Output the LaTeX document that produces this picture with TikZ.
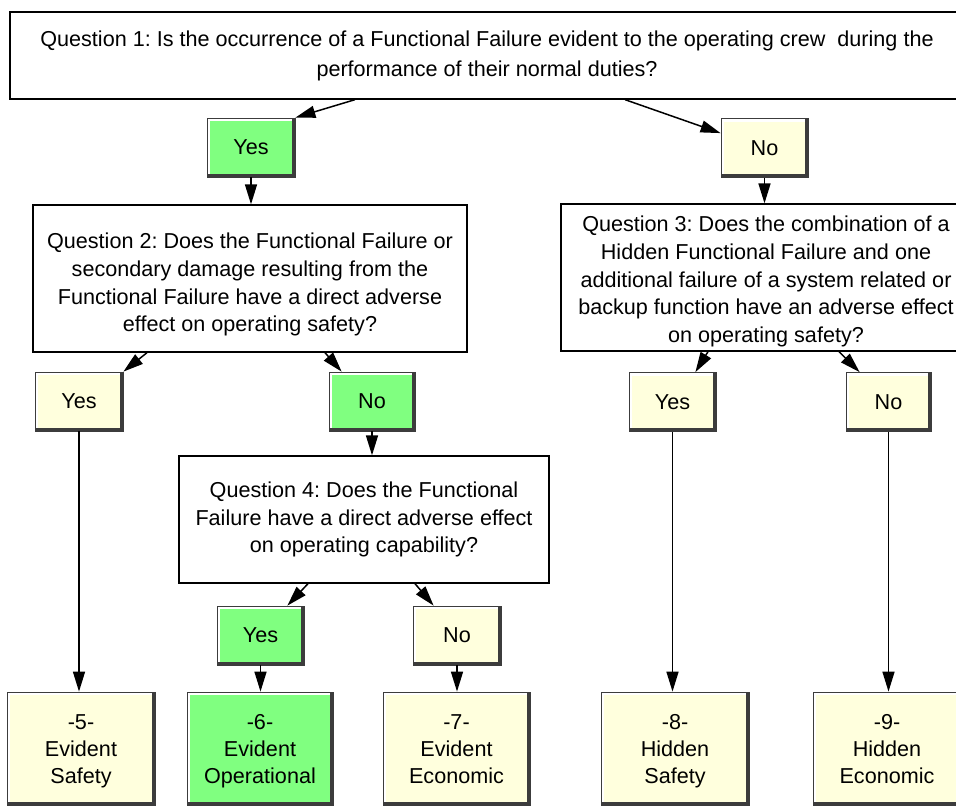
\documentclass[tikz,border=0pt]{standalone}
\usepackage{fontspec}
\setmainfont{Liberation Sans}
\usetikzlibrary{arrows.meta,calc}
\definecolor{grn}{RGB}{128,255,128}
\definecolor{pale}{RGB}{255,255,221}
\definecolor{shade}{RGB}{85,85,85}
\definecolor{edge}{RGB}{60,60,60}
\tikzset{
  qbox/.style={draw=black, line width=1.3pt, fill=white, align=center, inner sep=0pt,
    font=\fontsize{21.6}{27.7}\selectfont},
  btn/.style={draw=edge, line width=0.8pt, align=center, inner sep=0pt,
    font=\fontsize{21.6}{27}\selectfont,
    path picture={
      \draw[fill=none, white, line width=6pt] (path picture bounding box.south west) -- (path picture bounding box.north west);
      \draw[fill=none, white, line width=6pt] (path picture bounding box.north west) -- (path picture bounding box.north east);
      \draw[fill=none, shade, line width=7pt] (path picture bounding box.north east) -- (path picture bounding box.south east);
      \draw[fill=none, shade, line width=7pt] (path picture bounding box.south east) -- (path picture bounding box.south west);
    }},
  small/.style={btn, minimum height=59pt},
  result/.style={btn, minimum height=113pt, minimum width=148pt},
  arr/.style={line width=1.5pt, -{Triangle[length=20pt,width=12pt]}}
}
\newcommand{\botstrut}{\rule[-6pt]{0pt}{6pt}}
\newcommand{\topstrut}{\rule{0pt}{22.5pt}}
\begin{document}
\frenchspacing
\begin{tikzpicture}[x=1pt,y=-1pt]
\clip (0,0) rectangle (956,807);
\fill[white] (0,0) rectangle (956,807);

% questions
\node[qbox, minimum width=954pt, minimum height=87pt, font=\fontsize{21.6}{30}\selectfont] (q1) at (487,55.5)
  {Question 1: Is the occurrence of a Functional Failure evident to the operating crew~ during the\\performance of their normal duties?};
\node[qbox, minimum width=434pt, minimum height=147pt] (q2) at (250,278.5)
  {\rule{0pt}{28pt}Question 2: Does the Functional Failure or\\secondary damage resulting from the\\Functional Failure have a direct adverse\\effect on operating safety?};
\node[qbox, minimum width=410pt, minimum height=147pt] (q3) at (766,277.5)
  {\rule{0pt}{24pt}Question 3: Does the combination of a\\Hidden Functional Failure and one\\additional failure of a system related or\\backup function have an adverse effect\\on operating safety?};
\node[qbox, minimum width=370pt, minimum height=127pt] (q4) at (364,519.5)
  {Question 4: Does the Functional\\Failure have a direct adverse effect\\on operating capability?};

% yes / no
\node[small, fill=grn,  minimum width=88pt] (y1) at (251,147.5) {Yes};
\node[small, fill=pale, minimum width=87pt] (n1) at (764.5,148) {No};
\node[small, fill=pale, minimum width=88pt] (y2) at (79,401.5) {Yes};
\node[small, fill=grn,  minimum width=86pt] (n2) at (372,401.5) {No};
\node[small, fill=pale, minimum width=87pt] (y3) at (672.5,402) {Yes};
\node[small, fill=pale, minimum width=85pt] (n3) at (888.5,402) {No};
\node[small, fill=grn,  minimum width=87pt] (y4) at (260.5,635.5) {Yes};
\node[small, fill=pale, minimum width=88pt] (n4) at (457,635.5) {No};

% results
\node[result, fill=pale] (b5) at (81,748.5) {\topstrut-5-\\Evident\\Safety\botstrut};
\node[result, fill=grn, minimum width=146pt] (b6) at (260,748.5) {\topstrut-6-\\Evident\\Operational\botstrut};
\node[result, fill=pale, minimum width=147pt] (b7) at (456.5,748.5) {\topstrut-7-\\Evident\\Economic\botstrut};
\node[result, fill=pale] (b8) at (675,748.5) {\topstrut-8-\\Hidden\\Safety\botstrut};
\node[result, fill=pale] (b9) at (887,748.5) {\topstrut-9-\\Hidden\\Economic\botstrut};

% connectors
\draw[arr] ([xshift=-132pt]q1.south) -- (y1.north east);
\draw[arr] ([xshift=138pt]q1.south) -- ([yshift=-15pt]n1.north west);
\draw[arr] (y1.south) -- (y1.south |- q2.north);
\draw[arr] (n1.south) -- (n1.south |- q3.north);
\draw[arr] ([xshift=-103pt]q2.south) -- (y2.north east);
\draw[arr] ([xshift=75pt]q2.south) -- ([xshift=13pt]n2.north west);
\draw[arr] (n2.south) -- (n2.south |- q4.north);
\draw[arr] ([xshift=-58pt]q3.south) -- ([xshift=-21pt]y3.north east);
\draw[arr] ([xshift=73pt]q3.south) -- ([xshift=14pt]n3.north west);
\draw[arr] ([xshift=-56pt]q4.south) -- ([xshift=-17pt]y4.north east);
\draw[arr] ([xshift=51pt]q4.south) -- ([xshift=21pt]n4.north west);
\draw[arr] (y2.south) -- (y2.south |- b5.north);
\draw[arr] (y4.south) -- (y4.south |- b6.north);
\draw[arr] (n4.south) -- (n4.south |- b7.north);
\draw[arr] (y3.south) -- (y3.south |- b8.north);
\draw[arr] (n3.south) -- (n3.south |- b9.north);
\end{tikzpicture}
\end{document}
